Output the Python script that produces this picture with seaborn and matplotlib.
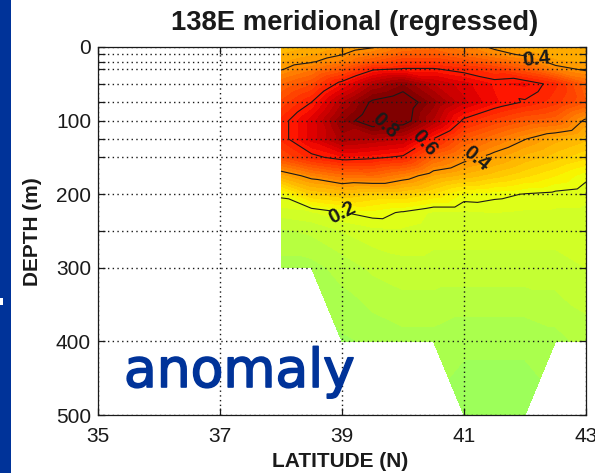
import numpy as np
import matplotlib
matplotlib.use("Agg")
import matplotlib.pyplot as plt
import matplotlib.tri as mtri
import matplotlib.patheffects as pe
from matplotlib.patches import Rectangle
from matplotlib.colors import Normalize
import seaborn as sns

# ---------------- data ----------------
LATS = [38.0, 38.5, 39.0, 39.5, 40.0, 40.5, 41.0, 41.5, 42.0, 42.5, 43.0]
DEPTHS = [0, 10, 20, 30, 50, 75, 100, 125, 150, 175, 200, 225, 250, 300, 400, 500]

# regressed anomaly profiles per station (down to the station bottom)
S38_0 = [0.33, 0.35, 0.37, 0.395, 0.47, 0.53, 0.58, 0.58, 0.52, 0.36, 0.21, 0.16, 0.12, 0.09]
S38_5 = [0.35, 0.37, 0.395, 0.44, 0.52, 0.60, 0.66, 0.66, 0.585, 0.42, 0.30, 0.17, 0.13, 0.09]
S39_0 = [0.37, 0.398, 0.43, 0.50, 0.62, 0.72, 0.77, 0.74, 0.62, 0.46, 0.32, 0.198, 0.15, 0.11, 0.07]
S39_5 = [0.395, 0.44, 0.50, 0.59, 0.72, 0.81, 0.84, 0.72, 0.61, 0.47, 0.30, 0.215, 0.165, 0.13, 0.08]
S40_0 = [0.45, 0.49, 0.55, 0.605, 0.77, 0.84, 0.83, 0.70, 0.59, 0.43, 0.30, 0.195, 0.17, 0.14, 0.09]
S40_5 = [0.46, 0.50, 0.55, 0.605, 0.70, 0.76, 0.72, 0.598, 0.48, 0.37, 0.27, 0.17, 0.16, 0.14, 0.09]
S41_0 = [0.43, 0.46, 0.52, 0.58, 0.66, 0.68, 0.59, 0.50, 0.42, 0.34, 0.22, 0.17, 0.16, 0.14, 0.08, 0.06]
S41_5 = [0.39, 0.42, 0.48, 0.55, 0.62, 0.63, 0.54, 0.45, 0.38, 0.31, 0.21, 0.175, 0.16, 0.14, 0.08, 0.06]
S42_0 = [0.36, 0.39, 0.44, 0.50, 0.63, 0.595, 0.50, 0.402, 0.34, 0.28, 0.198, 0.17, 0.16, 0.14, 0.08, 0.06]
S42_5 = [0.35, 0.36, 0.38, 0.42, 0.58, 0.56, 0.48, 0.36, 0.31, 0.25, 0.19, 0.17, 0.16, 0.14, 0.09]
S43_0 = [0.35, 0.36, 0.37, 0.39, 0.48, 0.50, 0.39, 0.33, 0.28, 0.21, 0.18, 0.17, 0.16, 0.15, 0.11]
STATIONS = [S38_0, S38_5, S39_0, S39_5, S40_0, S40_5, S41_0, S41_5, S42_0, S42_5, S43_0]

CONTOUR_LEVELS = [0.2, 0.4, 0.6, 0.8]
GRID_DEPTHS = [0, 10, 20, 30, 50, 75, 100, 125, 150, 200, 250, 300, 400, 500]
XTICKS = [35, 37, 39, 41, 43]
TITLE = "138E meridional (regressed)"
XLABEL = "LATITUDE (N)"
YLABEL = "DEPTH (m)"
NOTE = "anomaly"

# ---------------- layout / style ----------------
W, H = 595, 473
LABEL_POS = [(39.7, 102), (40.35, 128), (41.2, 152), (42.2, 11), (39.0, 227)]
LABEL_ROT = [-43, -49, -39, 6, 27]
FILL_LEVELS = np.arange(0.0, 0.925, 0.025)
BLUE = "#003399"

sns.set_theme(style="white")
plt.rcParams["font.family"] = ["Liberation Sans", "DejaVu Sans"]

# ---------------- build triangulated section ----------------
nd, nl = len(DEPTHS), len(LATS)
Z = np.full((nd, nl), np.nan)
for i, prof in enumerate(STATIONS):
    Z[:len(prof), i] = prof
LAT2, DEP2 = np.meshgrid(LATS, DEPTHS)
valid = ~np.isnan(Z)
idx = -np.ones((nd, nl), dtype=int)
idx[valid] = np.arange(valid.sum())
x = LAT2[valid]
y = DEP2[valid]
z = Z[valid]
tris = []
for j in range(nd - 1):
    for i in range(nl - 1):
        corners = [(j, i), (j, i + 1), (j + 1, i), (j + 1, i + 1)]
        ok = [valid[p] for p in corners]
        a, b, c, d = corners
        if all(ok):
            tris.append([idx[a], idx[b], idx[d]])
            tris.append([idx[a], idx[d], idx[c]])
        elif sum(ok) == 3:
            tris.append([idx[p] for p, o in zip(corners, ok) if o])
tri = mtri.Triangulation(x, y, np.array(tris))

# ---------------- figure ----------------
fig = plt.figure(figsize=(W / 100, H / 100), dpi=100)
fig.patch.set_facecolor("white")
ax = fig.add_axes([98 / W, 58 / H, 488 / W, 368 / H])
ax.set_facecolor("white")

cmap = matplotlib.colormaps["jet"]
norm = Normalize(-0.8, 0.8)
ax.tricontourf(tri, z, levels=FILL_LEVELS, cmap=cmap, norm=norm, zorder=1)
cs = ax.tricontour(tri, z, levels=CONTOUR_LEVELS, colors="k", linewidths=0.8, zorder=2)
labels = ax.clabel(cs, fmt="%.1f", manual=LABEL_POS, inline=True,
                   inline_spacing=2, fontsize=14.5)
for t, r in zip(labels, LABEL_ROT):
    t.set_fontweight("bold")
    t.set_rotation(r)
    t.set_zorder(5)

ax.set_xlim(35, 43)
ax.set_ylim(500, 0)
ax.set_xticks(XTICKS)
ax.set_xticklabels([str(v) for v in XTICKS])
ax.set_yticks(GRID_DEPTHS)
ax.set_yticklabels([str(d) if d % 100 == 0 else "" for d in GRID_DEPTHS])
ax.grid(True, color="k", linestyle=(0, (1, 2.4)), linewidth=1.0)
ax.set_axisbelow(False)
ax.tick_params(direction="in", length=5, width=0.9, colors="k",
               top=True, right=True, bottom=True, left=True, labelsize=15)
ax.tick_params(axis="x", pad=8.5)
ax.tick_params(axis="y", pad=5)
for sp in ax.spines.values():
    sp.set_color("k")
    sp.set_linewidth(0.9)
    sp.set_zorder(6)

fig.text(354.5 / W, 1 - 30 / H, TITLE, ha="center", va="baseline",
         fontsize=19.7, fontweight="bold", color="k")
fig.text(340.5 / W, 1 - 467 / H, XLABEL, ha="center", va="baseline",
         fontsize=15, fontweight="bold", color="k")
fig.text(32 / W, 1 - 231.5 / H, YLABEL, ha="center", va="center",
         rotation=90, fontsize=15, fontweight="bold", color="k")
fig.text(124 / W, 1 - 387 / H, NOTE, ha="left", va="baseline",
         fontsize=38.5, color=BLUE, family=["DejaVu Sans"],
         path_effects=[pe.withStroke(linewidth=1.2, foreground=BLUE)])

fig.add_artist(Rectangle((0, 0), 11 / W, 1, transform=fig.transFigure,
                         facecolor=BLUE, edgecolor="none"))
fig.add_artist(Rectangle((0, 1 - 305 / H), 3 / W, 7 / H, transform=fig.transFigure,
                         facecolor="white", edgecolor="none"))

fig.savefig("out.png", dpi=100)
